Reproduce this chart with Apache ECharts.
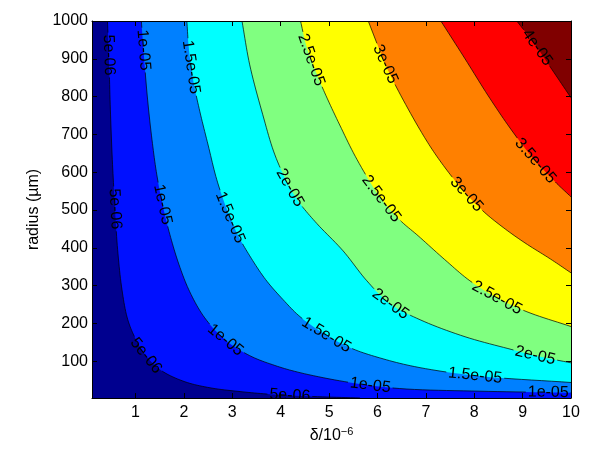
<!DOCTYPE html>
<html>
<head>
<meta charset="utf-8">
<script src="https://cdn.jsdelivr.net/npm/echarts@6/dist/echarts.min.js"></script>
<style>html,body{margin:0;padding:0;background:#fff}#main{width:600px;height:456px}</style>
</head>
<body>
<div id="main"></div>
<script>
var xTicks = [1, 2, 3, 4, 5, 6, 7, 8, 9, 10];
var yTicks = [100, 200, 300, 400, 500, 600, 700, 800, 900, 1000];
var levelNames = ['5e-06', '1e-05', '1.5e-05', '2e-05', '2.5e-05', '3e-05', '3.5e-05', '4e-05'];
// jet bands, lowest first
var bandColors = ['#00008F', '#0010FF', '#0080FF', '#00FFFF', '#80FF80', '#FFFF00', '#FF8000', '#FF0000', '#800000'];

// contour lines: [delta, radius]
var c05 = [[0.42,1000],[0.45,897],[0.48,765],[0.52,633],[0.57,514],[0.63,395],[0.72,289],[0.84,210],[1.01,157],[1.23,112],[1.54,75],[2.02,46],[2.54,30],[3.16,20],[3.78,13],[4.67,7],[5.64,3]];
var c10 = [[1.12,1000],[1.18,897],[1.25,791],[1.34,686],[1.44,593],[1.56,514],[1.71,435],[1.90,355],[2.12,284],[2.43,215],[2.85,157],[3.36,115],[3.88,89],[4.40,70],[5.43,44],[6.46,28],[8.12,21],[10,17]];
var c15 = [[2.06,1000],[2.10,929],[2.19,844],[2.33,760],[2.50,672],[2.68,580],[2.89,501],[3.11,435],[3.36,379],[3.69,316],[4.05,263],[4.40,218],[4.96,168],[5.49,133],[6.05,109],[6.77,86],[8.02,62],[10,44]];
var c20 = [[3.20,1000],[3.36,884],[3.63,752],[3.88,646],[4.19,559],[4.40,517],[4.75,464],[5.29,392],[5.78,313],[6.26,252],[6.88,210],[7.81,165],[8.78,131],[9.26,115],[10,96]];
var c25 = [[4.41,1000],[4.53,934],[4.71,871],[4.91,810],[5.22,725],[5.58,633],[6.05,535],[6.46,474],[6.84,432],[7.39,369],[7.91,313],[8.47,268],[9.09,231],[10,192]];
var c30 = [[5.81,1000],[5.97,947],[6.15,889],[6.40,823],[6.88,712],[7.19,649],[7.54,588],[7.83,543],[8.22,493],[8.64,450],[9.05,413],[9.57,371],[10,334]];
var c35 = [[7.31,1000],[7.81,900],[8.28,804],[8.74,717],[9.19,641],[9.67,575],[10,535]];
var c40 = [[8.88,1000],[9.26,937],[9.61,871],[10,797]];
var contours = [c05, c10, c15, c20, c25, c30, c35, c40];

// where the inline labels sit
var lab05 = [[0.45,910],[0.55,503],[1.17,110],[4.19,12]];
var lab10 = [[1.15,923],[1.53,514],[2.85,155],[5.85,35],[9.53,18]];
var lab15 = [[2.15,878],[2.95,480],[4.96,173],[8.02,62]];
var lab20 = [[4.19,559],[6.26,250],[9.26,115]];
var lab25 = [[4.62,897],[6.05,527],[8.47,268]];
var lab30 = [[6.13,884],[7.83,540]];
var lab35 = [[9.19,622]];
var lab40 = [[9.26,926]];
var labels = [lab05, lab10, lab15, lab20, lab25, lab30, lab35, lab40];

var FONT = '"Liberation Sans", Arial, Helvetica, sans-serif';
var LABEL_SIZE = 16;
var ctx = document.createElement('canvas').getContext('2d');
ctx.font = LABEL_SIZE + 'px ' + FONT;
function textWidth(t) { return ctx.measureText(t).width; }

// centripetal catmull-rom through the read points (pixel space), only for drawing
function smoothLine(pts, n) {
	if (pts.length < 3) return pts;
	var ext = [[2*pts[0][0]-pts[1][0], 2*pts[0][1]-pts[1][1]]].concat(pts);
	var m = pts.length;
	ext.push([2*pts[m-1][0]-pts[m-2][0], 2*pts[m-1][1]-pts[m-2][1]]);
	function knot(ti, a, b) {
		var d = Math.sqrt((b[0]-a[0])*(b[0]-a[0]) + (b[1]-a[1])*(b[1]-a[1]));
		return ti + Math.max(Math.sqrt(d), 1e-4);
	}
	function lerp(a, b, ta, tb, t) {
		var u = (t - ta) / (tb - ta);
		return [a[0] + (b[0]-a[0])*u, a[1] + (b[1]-a[1])*u];
	}
	var out = [pts[0]];
	for (var i = 1; i < ext.length - 2; i++) {
		var p0 = ext[i-1], p1 = ext[i], p2 = ext[i+1], p3 = ext[i+2];
		var t0 = 0, t1 = knot(t0, p0, p1), t2 = knot(t1, p1, p2), t3 = knot(t2, p2, p3);
		for (var j = 1; j <= n; j++) {
			var t = t1 + (t2 - t1) * j / n;
			var a1 = lerp(p0, p1, t0, t1, t), a2 = lerp(p1, p2, t1, t2, t), a3 = lerp(p2, p3, t2, t3, t);
			var b1 = lerp(a1, a2, t0, t2, t), b2 = lerp(a2, a3, t1, t3, t);
			out.push(lerp(b1, b2, t1, t2, t));
		}
	}
	return out;
}

function cumLen(pts) {
	var cum = [0];
	for (var i = 1; i < pts.length; i++) {
		var dx = pts[i][0] - pts[i-1][0], dy = pts[i][1] - pts[i-1][1];
		cum.push(cum[i-1] + Math.sqrt(dx*dx + dy*dy));
	}
	return cum;
}
function pointAt(pts, cum, s) {
	if (s <= 0) return pts[0].slice();
	var L = cum[cum.length-1];
	if (s >= L) return pts[pts.length-1].slice();
	for (var i = 1; i < pts.length; i++) {
		if (cum[i] >= s) {
			var t = (s - cum[i-1]) / ((cum[i] - cum[i-1]) || 1);
			return [pts[i-1][0] + t*(pts[i][0]-pts[i-1][0]), pts[i-1][1] + t*(pts[i][1]-pts[i-1][1])];
		}
	}
	return pts[pts.length-1].slice();
}
function project(pts, cum, a) {
	var best = {d: Infinity, s: 0};
	for (var i = 1; i < pts.length; i++) {
		var x0 = pts[i-1][0], y0 = pts[i-1][1], dx = pts[i][0]-x0, dy = pts[i][1]-y0;
		var l2 = dx*dx + dy*dy || 1;
		var t = Math.max(0, Math.min(1, ((a[0]-x0)*dx + (a[1]-y0)*dy) / l2));
		var px = x0 + t*dx, py = y0 + t*dy;
		var d = (a[0]-px)*(a[0]-px) + (a[1]-py)*(a[1]-py);
		if (d < best.d) best = {d: d, s: cum[i-1] + t*(cum[i]-cum[i-1])};
	}
	return best.s;
}

function renderContours(params, api) {
	var children = [];
	var xMax = 10, yMax = 1000;
	function toPx(p) { return api.coord(p); }
	var lines = contours.map(function(c) { return smoothLine(c.map(toPx), 10); });
	// filled bands, each one covers everything above its level
	contours.forEach(function(c, k) {
		var tail = [toPx([xMax, c[c.length-1][1]]), toPx([xMax, yMax])];
		children.push({type: 'polygon', shape: {points: lines[k].concat(tail)}, style: {fill: bandColors[k+1]}});
	});
	// lines broken at labels, then the labels
	lines.forEach(function(pts, k) {
		var cum = cumLen(pts);
		var L = cum[cum.length-1];
		var w = textWidth(levelNames[k]);
		var gaps = [];
		labels[k].forEach(function(lp) {
			var s = project(pts, cum, toPx(lp));
			var p = pointAt(pts, cum, s);
			var p0 = pointAt(pts, cum, s - w/2), p1 = pointAt(pts, cum, s + w/2);
			var ang = Math.atan2(p1[1]-p0[1], p1[0]-p0[0]);
			if (p1[0] - p0[0] < -0.5) ang += Math.PI;
			gaps.push([s - w/2 - 2, s + w/2 + 2]);
			children.push({
				type: 'text', x: p[0], y: p[1], rotation: -ang, z2: 10,
				style: {text: levelNames[k], fill: '#000', fontSize: LABEL_SIZE, fontFamily: FONT, align: 'center', verticalAlign: 'middle'}
			});
		});
		gaps.sort(function(a, b) { return a[0] - b[0]; });
		var start = 0;
		var keep = [];
		gaps.forEach(function(g) {
			if (g[0] > start) keep.push([start, g[0]]);
			start = Math.max(start, g[1]);
		});
		if (start < L) keep.push([start, L]);
		keep.forEach(function(iv) {
			var seg = [pointAt(pts, cum, iv[0])];
			for (var i = 0; i < pts.length; i++) {
				if (cum[i] > iv[0] && cum[i] < iv[1]) seg.push(pts[i]);
			}
			seg.push(pointAt(pts, cum, iv[1]));
			children.push({type: 'polyline', shape: {points: seg}, z2: 5, style: {stroke: '#000', lineWidth: 0.7, fill: null}});
		});
	});
	return {type: 'group', children: children};
}

var myChart = echarts.init(document.getElementById('main'));
var axisCommon = {
	type: 'value',
	splitLine: {show: false},
	axisLine: {show: true, onZero: false, lineStyle: {color: '#000', width: 1}},
	z: 10
};
function plain(v) { return String(v); }
var option = {
	animation: false,
	grid: {left: 92, right: 29, top: 21, bottom: 58, show: true, backgroundColor: bandColors[0], borderWidth: 0},
	xAxis: [
		echarts.util.merge({
			min: 0.1, max: 10, position: 'bottom',
			axisTick: {show: true, inside: true, length: 5, customValues: xTicks, lineStyle: {color: '#000'}},
			axisLabel: {customValues: xTicks, formatter: plain, color: '#000', fontSize: 16, fontFamily: FONT, margin: 7},
			name: 'δ/10{s|−6}', nameLocation: 'middle', nameGap: 28,
			nameTextStyle: {color: '#000', fontSize: 16, fontFamily: FONT, rich: {s: {fontSize: 11, fontFamily: FONT, color: '#000', padding: [0, 0, 9, 0]}}}
		}, axisCommon, true),
		echarts.util.merge({
			min: 0.1, max: 10, position: 'top',
			axisTick: {show: true, inside: true, length: 5, customValues: xTicks, lineStyle: {color: '#000'}},
			axisLabel: {show: false}
		}, axisCommon, true)
	],
	yAxis: [
		echarts.util.merge({
			min: 3, max: 1000, position: 'left',
			axisTick: {show: true, inside: true, length: 5, customValues: yTicks, lineStyle: {color: '#000'}},
			axisLabel: {customValues: yTicks, formatter: plain, color: '#000', fontSize: 16, fontFamily: FONT, margin: 4},
			name: 'radius (µm)', nameLocation: 'middle', nameGap: 37, nameRotate: 90,
			nameTextStyle: {color: '#000', fontSize: 16, fontFamily: FONT}
		}, axisCommon, true),
		echarts.util.merge({
			min: 3, max: 1000, position: 'right',
			axisTick: {show: true, inside: true, length: 5, customValues: yTicks, lineStyle: {color: '#000'}},
			axisLabel: {show: false}
		}, axisCommon, true)
	],
	series: [{
		type: 'custom',
		coordinateSystem: 'cartesian2d',
		xAxisIndex: 0,
		yAxisIndex: 0,
		clip: true,
		silent: true,
		renderItem: renderContours,
		data: [[0.1, 3]]
	}]
};
myChart.setOption(option);
</script>
</body>
</html>
